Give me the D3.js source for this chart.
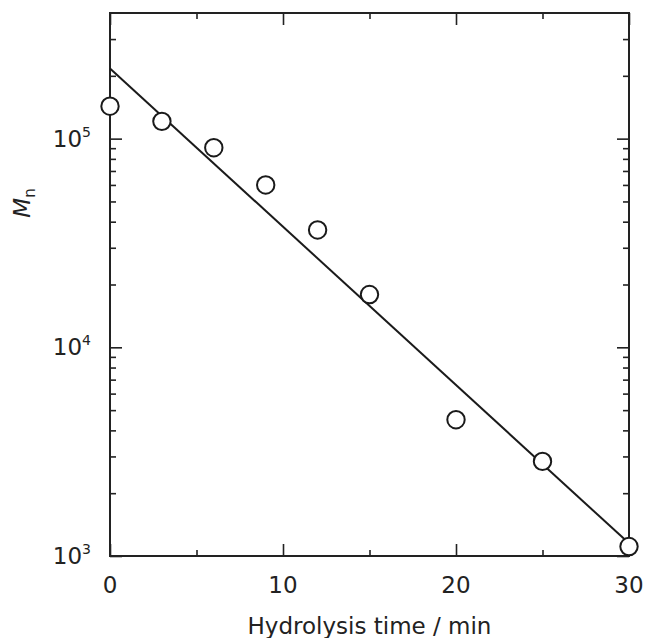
<!DOCTYPE html>
<html>
<head>
<meta charset="utf-8">
<script src="https://cdn.jsdelivr.net/npm/d3@7"></script>
<style>
  html, body { margin: 0; padding: 0; background: #fff; }
  svg { display: block; }
  text { font-family: "DejaVu Sans", sans-serif; fill: #222; }
</style>
</head>
<body>
<script>
// ---- data ----
const times = [0, 3, 6, 9, 12, 15, 20, 25, 30];
const mnValues = [1.43e5, 1.21e5, 9.05e4, 6.0e4, 3.65e4, 1.79e4, 4.5e3, 2.84e3, 1.11e3];
const fitTimes = [0, 30];
const fitValues = [2.17e5, 1.15e3];
const xMajorTicks = [0, 10, 20, 30];
const xMinorTicks = [5, 15, 25];
const yMajorTicks = [1e3, 1e4, 1e5];
const yTickExponents = ["3", "4", "5"];
const xTitle = "Hydrolysis time / min";

// ---- layout ----
const W = 649, H = 638;
const mLeft = 110, mRight = 629, mTop = 13, mBottom = 556;

const svg = d3.select("body").append("svg").attr("width", W).attr("height", H);

const x = d3.scaleLinear().domain([0, 30]).range([mLeft, mRight]);
const y = d3.scaleLog().domain([1e3, 4e5]).range([mBottom, mTop]);

const yMinorTicks = [];
for (let d = 1e3; d < 4e5; d *= 10) {
  for (let k = 2; k <= 9; k++) { const v = d * k; if (v < 4e5) yMinorTicks.push(v); }
}

const majorLen = 12, minorLen = 6;
function styleAxis(g) {
  g.select(".domain").remove();
  g.selectAll(".tick line").attr("stroke", "#222").attr("stroke-width", 1.6);
}
// bottom (ticks inward = upward)
svg.append("g").attr("transform", `translate(0,${mBottom})`)
  .call(d3.axisBottom(x).tickValues(xMajorTicks).tickSize(-majorLen).tickFormat("")).call(styleAxis);
svg.append("g").attr("transform", `translate(0,${mBottom})`)
  .call(d3.axisBottom(x).tickValues(xMinorTicks).tickSize(-minorLen).tickFormat("")).call(styleAxis);
// top
svg.append("g").attr("transform", `translate(0,${mTop})`)
  .call(d3.axisTop(x).tickValues(xMajorTicks).tickSize(-majorLen).tickFormat("")).call(styleAxis);
svg.append("g").attr("transform", `translate(0,${mTop})`)
  .call(d3.axisTop(x).tickValues(xMinorTicks).tickSize(-minorLen).tickFormat("")).call(styleAxis);
// left
svg.append("g").attr("transform", `translate(${mLeft},0)`)
  .call(d3.axisLeft(y).tickValues(yMajorTicks).tickSize(-majorLen).tickFormat("")).call(styleAxis);
svg.append("g").attr("transform", `translate(${mLeft},0)`)
  .call(d3.axisLeft(y).tickValues(yMinorTicks).tickSize(-minorLen).tickFormat("")).call(styleAxis);
// right
svg.append("g").attr("transform", `translate(${mRight},0)`)
  .call(d3.axisRight(y).tickValues(yMajorTicks).tickSize(-majorLen).tickFormat("")).call(styleAxis);
svg.append("g").attr("transform", `translate(${mRight},0)`)
  .call(d3.axisRight(y).tickValues(yMinorTicks).tickSize(-minorLen).tickFormat("")).call(styleAxis);

// frame
svg.append("rect").attr("x", mLeft).attr("y", mTop)
  .attr("width", mRight - mLeft).attr("height", mBottom - mTop)
  .attr("fill", "none").attr("stroke", "#222").attr("stroke-width", 2);

// x tick labels
svg.append("g").selectAll("text").data(xMajorTicks).join("text")
  .attr("x", d => x(d)).attr("y", 593)
  .attr("text-anchor", "middle").attr("font-size", 23)
  .text(d => d);

// y tick labels with superscripts
const yl = svg.append("g").selectAll("text").data(yMajorTicks).join("text")
  .attr("x", 91).attr("y", d => y(d) + 8)
  .attr("text-anchor", "end").attr("font-size", 23);
yl.append("tspan").text("10");
yl.append("tspan").attr("dy", -10).attr("font-size", 14).text((d, i) => yTickExponents[i]);

// x title
svg.append("text").attr("x", (mLeft + mRight) / 2).attr("y", 634)
  .attr("text-anchor", "middle").attr("font-size", 23).text(xTitle);

// y title: M_n rotated
const yt = svg.append("text")
  .attr("transform", `translate(30,203) rotate(-90)`)
  .attr("text-anchor", "middle").attr("font-size", 23);
yt.append("tspan").attr("font-style", "italic").text("M");
yt.append("tspan").attr("dy", 5).attr("font-size", 15).text("n");

// fit line
const line = d3.line().x(d => x(d[0])).y(d => y(d[1]));
svg.append("path").datum(fitTimes.map((t, i) => [t, fitValues[i]]))
  .attr("d", line).attr("fill", "none").attr("stroke", "#1a1a1a").attr("stroke-width", 2);

// data points
svg.append("g").selectAll("circle").data(times.map((t, i) => [t, mnValues[i]])).join("circle")
  .attr("cx", d => x(d[0])).attr("cy", d => y(d[1])).attr("r", 8.7)
  .attr("fill", "#fff").attr("stroke", "#1a1a1a").attr("stroke-width", 2);
</script>
</body>
</html>
